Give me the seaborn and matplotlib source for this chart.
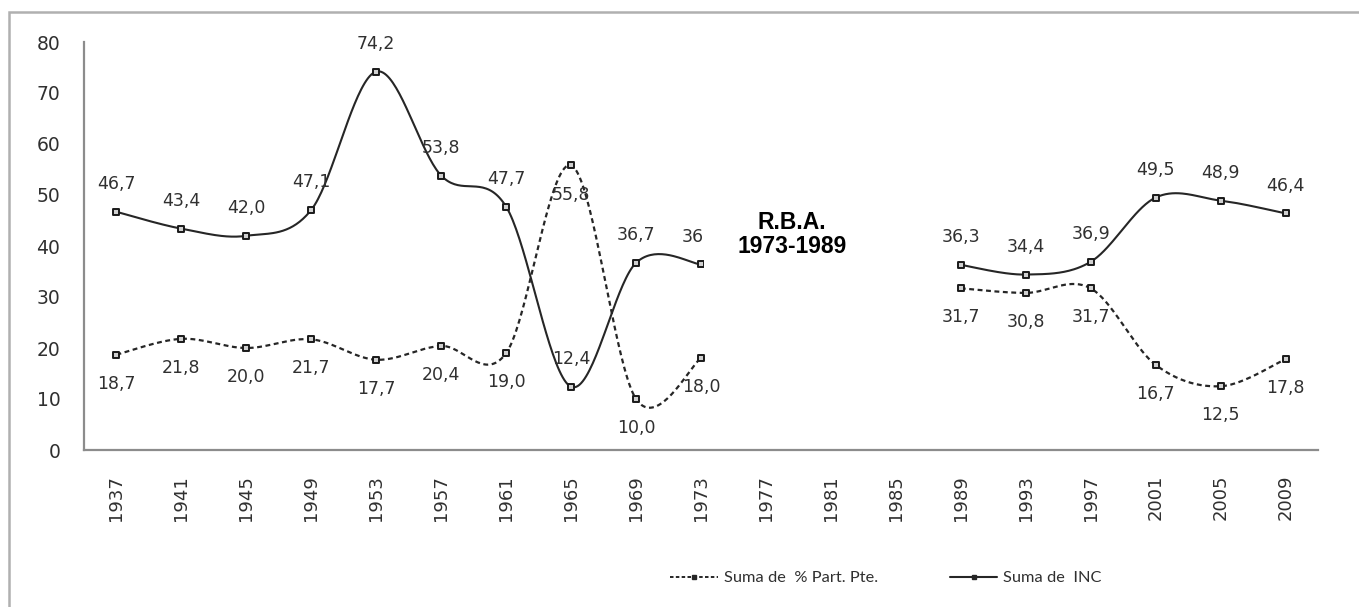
import numpy as np
import pandas as pd
import matplotlib
matplotlib.use("Agg")
import matplotlib.pyplot as plt
import seaborn as sns
from matplotlib.lines import Line2D
from matplotlib.patches import Rectangle

# --- data ---
years = [1937, 1941, 1945, 1949, 1953, 1957, 1961, 1965, 1969, 1973,
         1977, 1981, 1985, 1989, 1993, 1997, 2001, 2005, 2009]
inc = [46.7, 43.4, 42.0, 47.1, 74.2, 53.8, 47.7, 12.4, 36.7, 36.4,
       np.nan, np.nan, np.nan, 36.3, 34.4, 36.9, 49.5, 48.9, 46.4]
part_pte = [18.7, 21.8, 20.0, 21.7, 17.7, 20.4, 19.0, 55.8, 10.0, 18.0,
            np.nan, np.nan, np.nan, 31.7, 30.8, 31.7, 16.7, 12.5, 17.8]
series_names = ["Suma de  % Part. Pte.", "Suma de  INC"]
note_text = "R.B.A.\n1973-1989"

LINE_COL = "#262626"
AXIS_COL = "#8c8c8c"
TEXT_COL = "#303030"


def smooth_runs(values, n=40):
    """Excel-like smoothed line: cubic Bezier through each run of points."""
    rows = []
    x = np.arange(len(values), dtype=float)
    y = np.asarray(values, dtype=float)
    ok = ~np.isnan(y)
    run, runs = [], []
    for i in range(len(y)):
        if ok[i]:
            run.append(i)
        elif run:
            runs.append(run)
            run = []
    if run:
        runs.append(run)
    t = np.linspace(0, 1, n)
    for k, idx in enumerate(runs):
        px, py = x[idx], y[idx]
        m = len(idx)
        for i in range(m - 1):
            a = i - 1 if i > 0 else i
            d = i + 2 if i + 2 < m else i + 1
            c1x = px[i] + (px[i + 1] - px[a]) / 6
            c1y = py[i] + (py[i + 1] - py[a]) / 6
            c2x = px[i + 1] - (px[d] - px[i]) / 6
            c2y = py[i + 1] - (py[d] - py[i]) / 6
            bx = ((1 - t) ** 3 * px[i] + 3 * (1 - t) ** 2 * t * c1x
                  + 3 * (1 - t) * t ** 2 * c2x + t ** 3 * px[i + 1])
            by = ((1 - t) ** 3 * py[i] + 3 * (1 - t) ** 2 * t * c1y
                  + 3 * (1 - t) * t ** 2 * c2y + t ** 3 * py[i + 1])
            for xx, yy in zip(bx, by):
                rows.append({"x": xx, "y": yy, "seg": k})
    return pd.DataFrame(rows)


sns.set_style("white")
plt.rcParams["font.family"] = ["DejaVu Sans"]

fig = plt.figure(figsize=(13.59, 6.07), dpi=100)
ax = fig.add_axes([84 / 1359, 157 / 607, (1318 - 84) / 1359, (450 - 42) / 607])

pos = np.arange(len(years))
pts = pd.DataFrame({"x": pos, "inc": inc, "pte": part_pte})

# smoothed curves
sns.lineplot(data=smooth_runs(part_pte), x="x", y="y", units="seg", estimator=None,
             sort=False, color=LINE_COL, linewidth=1.6, linestyle=(0, (2.2, 1.6)), ax=ax)
sns.lineplot(data=smooth_runs(inc), x="x", y="y", units="seg", estimator=None,
             sort=False, color=LINE_COL, linewidth=1.5, ax=ax)

# square markers
for col in ["pte", "inc"]:
    sub = pts.dropna(subset=[col])
    sns.scatterplot(data=sub, x="x", y=col, marker="s", s=15, color="#d0d0d0",
                    edgecolor="#1a1a1a", linewidth=1.4, zorder=4, ax=ax)

# data labels
for p, v in zip(pos, inc):
    if not np.isnan(v):
        ax.annotate(f"{v:.1f}".replace(".", ","), (p, v), xytext=(0, 20),
                    textcoords="offset points", ha="center", va="center",
                    fontsize=12.5, color=TEXT_COL, zorder=2)
for p, v in zip(pos, part_pte):
    if not np.isnan(v):
        ax.annotate(f"{v:.1f}".replace(".", ","), (p, v), xytext=(0, -21),
                    textcoords="offset points", ha="center", va="center",
                    fontsize=12.5, color=TEXT_COL, zorder=2)

# R.B.A. text box (white box hides part of the 1973 label, as in the original)
ax.text(10.4, 42.3, note_text, ha="center", va="center", fontsize=16.5,
        fontweight="bold", family=["Liberation Sans", "DejaVu Sans"], color="black",
        linespacing=1.05, zorder=5,
        bbox=dict(boxstyle="square,pad=1.45", facecolor="white", edgecolor="none"))

# axes styling
ax.set_xlim(-0.5, len(years) - 0.5)
ax.set_ylim(0, 80)
ax.set_yticks(np.arange(0, 81, 10))
ax.set_xticks(pos)
ax.set_xticklabels([str(y) for y in years], rotation=90)
ax.set_xticks(np.arange(-0.5, len(years), 1), minor=True)
ax.set_xlabel("")
ax.set_ylabel("")
for s in ["top", "right"]:
    ax.spines[s].set_visible(False)
for s in ["left", "bottom"]:
    ax.spines[s].set_color(AXIS_COL)
    ax.spines[s].set_linewidth(1.6)
ax.tick_params(axis="x", which="major", length=0, pad=18, labelsize=13, labelcolor=TEXT_COL)
ax.tick_params(axis="x", which="minor", length=7, width=1.4, color=AXIS_COL, direction="out")
ax.tick_params(axis="y", length=5, width=1.4, color=AXIS_COL, direction="out",
               pad=12, labelsize=13.5, labelcolor=TEXT_COL)

# legend
handles = [
    Line2D([], [], color=LINE_COL, linewidth=1.4, linestyle=(0, (1.8, 1.2)),
           marker="s", markersize=3.5, markerfacecolor=LINE_COL, markeredgecolor=LINE_COL),
    Line2D([], [], color=LINE_COL, linewidth=1.5, marker="s", markersize=3.5,
           markerfacecolor=LINE_COL, markeredgecolor=LINE_COL),
]
fig.legend(handles, series_names, loc="center", bbox_to_anchor=(886 / 1359, 29 / 607),
           ncol=2, frameon=False, handlelength=2.9, handletextpad=0.35, columnspacing=4.4,
           prop={"family": ["Lato", "DejaVu Sans"], "size": 11.8}, labelcolor=TEXT_COL)

# outer chart border (runs off the right and bottom edges in the reference)
fig.add_artist(Rectangle((9 / 1359, -0.05), 1.2, 0.05 + 1 - 12 / 607,
                         transform=fig.transFigure, fill=False,
                         edgecolor="#b0b0b0", linewidth=1.8))

fig.savefig("out.png", dpi=100)
plt.close(fig)
